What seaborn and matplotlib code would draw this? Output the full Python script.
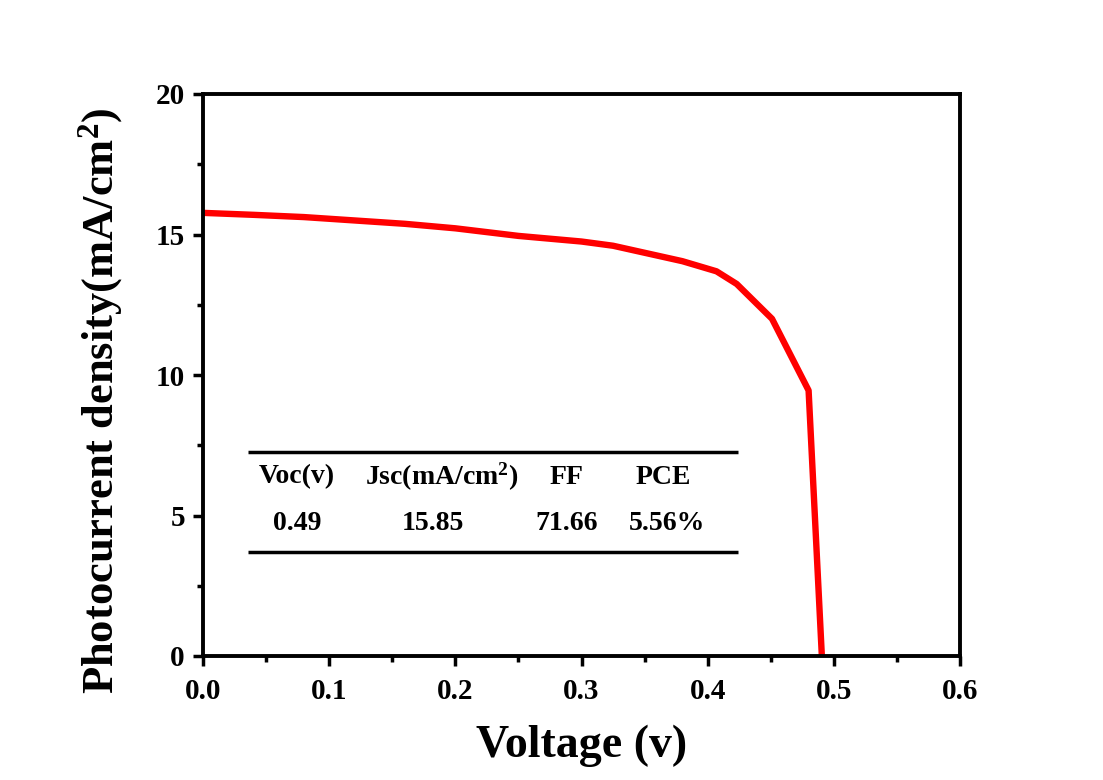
import matplotlib
matplotlib.use("Agg")
import matplotlib.pyplot as plt
import seaborn as sns
import pandas as pd

voltage = [0.0, 0.04, 0.08, 0.12, 0.16, 0.20, 0.25, 0.30, 0.325, 0.35, 0.38, 0.407, 0.423, 0.451, 0.480, 0.4905]
current = [15.77, 15.70, 15.62, 15.50, 15.38, 15.22, 14.95, 14.75, 14.60, 14.35, 14.05, 13.69, 13.24, 12.0, 9.45, 0.0]

table_headers = ["Voc(v)", "Jsc(mA/cm$^{2}$)", "FF", "PCE"]
table_values = ["0.49", "15.85", "71.66", "5.56%"]

sns.set_style("ticks")
plt.rcParams['font.family'] = ['Liberation Serif', 'DejaVu Serif']
plt.rcParams['font.weight'] = 'bold'
plt.rcParams['text.color'] = 'black'
plt.rcParams['axes.labelcolor'] = 'black'
plt.rcParams['xtick.color'] = 'black'
plt.rcParams['ytick.color'] = 'black'
plt.rcParams['mathtext.fontset'] = 'custom'
plt.rcParams['mathtext.rm'] = 'Liberation Serif:bold'
plt.rcParams['mathtext.bf'] = 'Liberation Serif:bold'
plt.rcParams['mathtext.it'] = 'Liberation Serif:bold'

df = pd.DataFrame({"Voltage": voltage, "Current": current})

fig = plt.figure(figsize=(11.03, 7.80), dpi=100)
ax = fig.add_axes([203/1103, 1 - 656/780, (960-203)/1103, (656-94)/780])
sns.lineplot(data=df, x="Voltage", y="Current", ax=ax, color="#ff0000", linewidth=4.6, sort=False)

ax.set_xlim(0, 0.6)
ax.set_ylim(0, 20)
ax.set_xticks([0.0, 0.1, 0.2, 0.3, 0.4, 0.5, 0.6])
ax.set_xticklabels(["0.0", "0.1", "0.2", "0.3", "0.4", "0.5", "0.6"])
ax.set_yticks([0, 5, 10, 15, 20])
ax.set_xticks([0.05, 0.15, 0.25, 0.35, 0.45, 0.55], minor=True)
ax.set_yticks([2.5, 7.5, 12.5, 17.5], minor=True)
ax.tick_params(axis='both', which='major', direction='out', length=7, width=2.5, labelsize=21, color='black', labelcolor='black')
ax.tick_params(axis='x', which='major', pad=9)
ax.tick_params(axis='y', which='major', pad=6)
ax.tick_params(axis='both', which='minor', direction='out', length=4, width=2.5, color='black')
for lab in ax.get_xticklabels() + ax.get_yticklabels():
    lab.set_fontweight('bold')
for s in ax.spines.values():
    s.set_linewidth(2.8)
    s.set_color('black')

ax.set_xlabel("Voltage (v)", fontsize=33, fontweight='bold', labelpad=14, color='black')
ax.set_ylabel("Photocurrent density(mA/cm$^{2}$)", fontsize=32, fontweight='bold', color='black')
ax.yaxis.set_label_coords(-0.103, 0.455)

# inset table
ax.plot([0.036, 0.424], [7.25, 7.25], color='black', linewidth=2.5, solid_capstyle='butt')
ax.plot([0.036, 0.424], [3.7, 3.7], color='black', linewidth=2.5, solid_capstyle='butt')
hx = [0.0745, 0.1895, 0.2885, 0.365]
vx = [0.0745, 0.1825, 0.2885, 0.368]
for x, t in zip(hx, table_headers):
    ax.text(x, 6.37, t, ha='center', va='center', fontsize=20, fontweight='bold', color='black')
for x, t in zip(vx, table_values):
    ax.text(x, 4.73, t, ha='center', va='center', fontsize=20, fontweight='bold', color='black')

fig.savefig("out.png", dpi=100)
